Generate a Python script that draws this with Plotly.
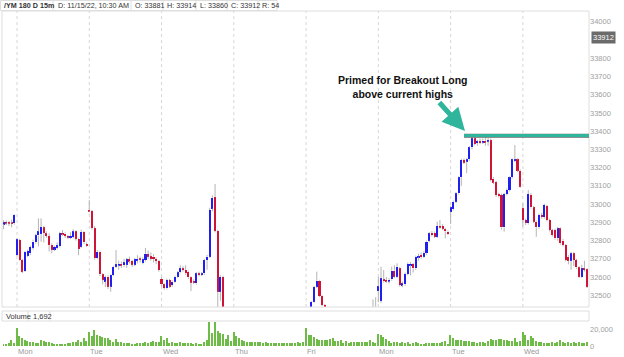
import plotly.graph_objects as go

# ---------------- data (15-minute bars) ----------------
day_labels = ["Mon", "Tue", "Wed", "Thu", "Fri", "Mon", "Tue", "Wed"]
bars_before_first_day = 5
bars_per_day = 27

open_ = [
    32890, 32902, 32900, 32898, 32895,
    32721, 32803, 32694, 32633, 32717, 32730, 32760, 32790, 32828, 32835, 32872, 32840, 32825, 32778, 32750, 32760, 32770, 32842, 32838, 32826, 32815, 32820, 32850, 32810, 32767, 32848, 32782,
    32970, 32962, 32868, 32703, 32740, 32615, 32575, 32602, 32548, 32611, 32657, 32665, 32672, 32664, 32668, 32698, 32688, 32668, 32690, 32700, 32678, 32693, 32726, 32714, 32712, 32700, 32688,
    32590, 32560, 32538, 32584, 32556, 32575, 32602, 32626, 32648, 32639, 32630, 32598, 32580, 32565, 32620, 32612, 32620, 32693, 32712, 32975, 33040, 32853, 32520, 32602, 32400, 32380, 32395,
    32360, 32350, 32320, 32285, 32305, 32270, 32252, 32278, 32262, 32235, 32248, 32268, 32245, 32222, 32248, 32276, 32262, 32242, 32268, 32296, 32282, 32262, 32288, 32308, 32292, 32272, 32298,
    32300, 32340, 32400, 32465, 32547, 32580, 32496, 32447, 32425, 32410, 32395, 32380, 32392, 32370, 32355, 32372, 32388, 32375, 32360, 32378, 32395, 32384, 32400, 32412, 32398, 32410, 32425,
    32525, 32470, 32587, 32585, 32578, 32587, 32635, 32602, 32648, 32556, 32560, 32617, 32665, 32672, 32648, 32708, 32721, 32712, 32730, 32799, 32843, 32843, 32821, 32880, 32880, 32862, 32849,
    32958, 32971, 33013, 33059, 33147, 33242, 33233, 33245, 33311, 33360, 33335, 33345, 33338, 33348, 33344, 33350, 33140, 33120, 33055, 33050, 32872, 33055, 33077, 33147, 33238, 33245, 33183,
    32977, 32913, 32895, 33050, 32982, 32904, 32872, 32940, 32928, 32990, 32913, 32858, 32858, 32812, 32867, 32800, 32776, 32712, 32690, 32730, 32694, 32653, 32602, 32648, 32642,
]
high = [
    32912, 32910, 32908, 32915, 32945,
    32812, 32810, 32700, 32745, 32750, 32772, 32805, 32838, 32922, 32922, 32880, 32850, 32840, 32785, 32772, 32790, 32848, 32858, 32845, 32832, 32845, 32862, 32856, 32815, 32860, 32852, 32790,
    33022, 32968, 32880, 32748, 32745, 32622, 32608, 32610, 32615, 32662, 32748, 32690, 32685, 32700, 32705, 32712, 32695, 32705, 32720, 32712, 32708, 32760, 32745, 32735, 32725, 32708, 32695,
    32600, 32566, 32592, 32590, 32582, 32608, 32632, 32665, 32660, 32665, 32636, 32604, 32588, 32628, 32630, 32628, 32700, 32722, 32980, 33048, 33110, 32860, 32610, 32608, 32420, 32410, 32405,
    32372, 32362, 32330, 32318, 32312, 32280, 32290, 32285, 32270, 32256, 32275, 32280, 32252, 32256, 32285, 32282, 32270, 32276, 32302, 32305, 32290, 32295, 32316, 32315, 32300, 32305, 32325,
    32350, 32410, 32470, 32552, 32630, 32585, 32500, 32452, 32428, 32418, 32400, 32400, 32396, 32376, 32380, 32395, 32392, 32380, 32384, 32400, 32400, 32405, 32420, 32416, 32415, 32478, 32490,
    32602, 32657, 32639, 32600, 32595, 32657, 32665, 32675, 32655, 32575, 32625, 32680, 32682, 32678, 32718, 32728, 32735, 32742, 32800, 32848, 32852, 32850, 32904, 32913, 32890, 32870, 32855,
    32990, 33020, 33065, 33152, 33248, 33250, 33252, 33318, 33368, 33368, 33352, 33360, 33360, 33365, 33362, 33360, 33148, 33128, 33062, 33058, 33062, 33085, 33152, 33250, 33324, 33252, 33190,
    33004, 32920, 33077, 33060, 32990, 32910, 32948, 32952, 33002, 32996, 32920, 32865, 32865, 32875, 32872, 32808, 32782, 32720, 32738, 32736, 32700, 32660, 32668, 32690, 32648,
]
low = [
    32862, 32885, 32880, 32872, 32888,
    32715, 32690, 32622, 32628, 32710, 32722, 32750, 32783, 32768, 32794, 32790, 32815, 32740, 32730, 32742, 32752, 32762, 32826, 32815, 32808, 32808, 32812, 32800, 32720, 32760, 32782, 32765,
    32955, 32860, 32695, 32698, 32605, 32560, 32545, 32535, 32520, 32605, 32650, 32640, 32650, 32655, 32650, 32675, 32655, 32660, 32675, 32680, 32670, 32685, 32700, 32690, 32680, 32672, 32630,
    32550, 32532, 32532, 32540, 32548, 32570, 32596, 32620, 32630, 32612, 32590, 32523, 32562, 32558, 32604, 32606, 32612, 32640, 32705, 32960, 32845, 32420, 32470, 32380, 32360, 32365, 32350,
    32340, 32310, 32275, 32278, 32260, 32240, 32245, 32252, 32225, 32228, 32240, 32238, 32215, 32215, 32240, 32255, 32235, 32236, 32260, 32275, 32255, 32258, 32280, 32285, 32265, 32265, 32290,
    32290, 32330, 32395, 32460, 32540, 32490, 32440, 32410, 32400, 32388, 32372, 32375, 32362, 32345, 32350, 32365, 32368, 32352, 32355, 32372, 32378, 32380, 32395, 32390, 32392, 32400, 32415,
    32462, 32460, 32570, 32568, 32565, 32580, 32595, 32595, 32548, 32545, 32552, 32610, 32610, 32625, 32640, 32690, 32700, 32705, 32722, 32790, 32822, 32814, 32815, 32865, 32858, 32812, 32830,
    32890, 32965, 33005, 33052, 33100, 33220, 33169, 33238, 33300, 33322, 33320, 33328, 33330, 33320, 33320, 33125, 33110, 33040, 33036, 32860, 32849, 33048, 33070, 33140, 33230, 33175, 33090,
    32876, 32886, 32888, 32975, 32896, 32821, 32865, 32920, 32920, 32905, 32850, 32822, 32805, 32800, 32778, 32768, 32686, 32670, 32640, 32660, 32645, 32595, 32595, 32630, 32540,
]
close = [
    32900, 32896, 32895, 32893, 32940,
    32807, 32694, 32630, 32739, 32743, 32765, 32795, 32830, 32850, 32874, 32840, 32825, 32775, 32750, 32765, 32775, 32840, 32835, 32825, 32818, 32825, 32850, 32810, 32755, 32848, 32790, 32772,
    32962, 32868, 32703, 32740, 32615, 32585, 32600, 32548, 32611, 32657, 32670, 32672, 32664, 32680, 32698, 32688, 32668, 32698, 32700, 32695, 32698, 32728, 32712, 32700, 32698, 32688, 32638,
    32560, 32540, 32584, 32548, 32575, 32602, 32626, 32648, 32639, 32621, 32598, 32570, 32570, 32620, 32612, 32620, 32693, 32712, 32968, 33035, 32853, 32520, 32602, 32400, 32380, 32395, 32370,
    32350, 32320, 32285, 32305, 32270, 32252, 32278, 32262, 32235, 32248, 32268, 32245, 32222, 32248, 32276, 32262, 32242, 32268, 32296, 32282, 32262, 32288, 32308, 32292, 32272, 32298, 32318,
    32340, 32400, 32465, 32547, 32580, 32496, 32447, 32425, 32410, 32395, 32380, 32392, 32370, 32355, 32372, 32388, 32375, 32360, 32378, 32395, 32384, 32400, 32412, 32398, 32410, 32425, 32430,
    32549, 32593, 32576, 32577, 32586, 32635, 32602, 32657, 32556, 32565, 32617, 32672, 32672, 32648, 32712, 32715, 32708, 32734, 32794, 32840, 32830, 32821, 32880, 32873, 32865, 32851, 32836,
    32982, 33013, 33059, 33147, 33242, 33227, 33245, 33311, 33360, 33329, 33345, 33335, 33348, 33338, 33350, 33132, 33118, 33050, 33044, 32872, 33055, 33077, 33147, 33245, 33245, 33183, 33096,
    32913, 32895, 33055, 32982, 32904, 32872, 32940, 32928, 32995, 32913, 32858, 32830, 32812, 32867, 32785, 32776, 32694, 32690, 32730, 32694, 32653, 32602, 32648, 32639, 32547,
]
volume = [
    2400, 2800, 3600, 7700, 4000,
    22200, 12100, 9700, 7700, 6100, 5300, 4800, 4000, 3600, 6900, 5700, 4800, 4400, 3200, 2800, 2400, 2800, 2400, 2800, 3200, 4000, 4800, 5300, 7700, 4400, 10100, 5700,
    17000, 11700, 19800, 13700, 12500, 10900, 10100, 9700, 7700, 4800, 8100, 5300, 4400, 3600, 3200, 3600, 2800, 2800, 3200, 3600, 4000, 5300, 3600, 4400, 6100, 4400, 4800,
    12100, 6900, 9700, 4000, 4800, 3600, 3200, 4400, 3600, 4000, 3200, 3600, 2800, 3200, 2800, 2400, 4400, 7700, 29000, 16000, 28500, 18000, 15500, 14500, 8000, 13000, 6000,
    17000, 12000, 10000, 7000, 5500, 5000, 5300, 4800, 4400, 4800, 4400, 4000, 4400, 4000, 3600, 4000, 3600, 4000, 3600, 3200, 3600, 3200, 3600, 4000, 5300, 3600, 4400,
    22200, 12900, 13700, 10900, 8900, 6900, 7700, 6900, 7700, 8900, 10100, 6100, 6100, 6900, 4000, 5700, 3600, 5000, 5300, 5000, 5300, 5000, 5300, 5300, 6900, 4800, 3200,
    15000, 12900, 10900, 8100, 6100, 3600, 4800, 5300, 3600, 4400, 3600, 4400, 2800, 3600, 4400, 3600, 2000, 2800, 3600, 3600, 3600, 3600, 4000, 3600, 4800, 6100, 2800,
    13700, 10100, 7700, 6900, 6900, 6100, 6100, 5700, 4800, 4400, 3600, 4400, 4800, 3600, 6100, 8900, 6900, 7700, 8100, 8500, 6900, 7700, 6100, 6100, 10100, 4800, 6100,
    17000, 13700, 7700, 11700, 10100, 6100, 4800, 4400, 4000, 3600, 3600, 4400, 3600, 4800, 6900, 4400, 3600, 4400, 3600, 5300, 3600, 4400, 4000, 3600, 4800,
]

price_ticks = list(range(32500, 34001, 100))
volume_ticks = [0, 20000]
volume_tick_text = ["0", "20,000"]
breakout_level = 33375
breakout_start_bar = 172
last_price = 33912
header_items = ["<b>/YM 180 D 15m</b>", "D: 11/15/22, 10:30 AM", "O: 33881", "H: 33914",
                "L: 33860", "C: 33912", "R: 54"]
volume_header = ["Volume", "1,692"]
callout = "<b>Primed for Breakout Long<br>above current highs</b>"

# ---------------- geometry helpers ----------------
W, H = 624, 357
ML, MR, MT, MB = 3, 35, 12, 11
PW, PH = W - ML - MR, H - MT - MB


def py(p):  # pixel row -> paper y
    return (H - MB - p) / PH


def px(p):  # pixel column -> paper x
    return (p - ML) / PW


UP, DOWN, WICK = "#1f1ff0", "#cf1537", "#b4b4b4"
VOL, GRID, BORDER, TEAL = "#6fbb47", "#d6d6d6", "#dedede", "#2fb59b"
FONT = "Liberation Sans"

n = len(close)
xs = list(range(n))
body_lo = [min(o, c) for o, c in zip(open_, close)]
body_hi = [max(o, c) for o, c in zip(open_, close)]
body_h = [max(h - l, 6) for h, l in zip(body_hi, body_lo)]
colors = [UP if c >= o else DOWN for o, c in zip(open_, close)]

wx, wy = [], []
for i in range(n):
    wx += [i, i, None, i, i, None]
    wy += [low[i], body_lo[i], None, body_hi[i], high[i], None]

fig = go.Figure()
fig.add_trace(go.Scatter(x=wx, y=wy, mode="lines", line=dict(color=WICK, width=1),
                         hoverinfo="skip", showlegend=False, yaxis="y"))
fig.add_trace(go.Bar(x=xs, y=body_h, base=body_lo, marker=dict(color=colors, line=dict(width=0)),
                     width=0.78, showlegend=False, yaxis="y"))
fig.add_trace(go.Bar(x=xs, y=volume, marker=dict(color=VOL, line=dict(width=0)),
                     width=0.55, showlegend=False, yaxis="y2"))

x_lo, x_hi = -0.23, n - 0.3
day_starts = [bars_before_first_day + k * bars_per_day for k in range(len(day_labels))]
# the 33900 label is hidden under the last-price tag in the reference
shown_price_ticks = [t for t in price_ticks if abs(t - last_price) > 50]

shapes = []
for ds in day_starts:
    shapes.append(dict(type="line", xref="x", yref="paper", x0=ds, x1=ds, y0=py(307), y1=py(11),
                       line=dict(color=GRID, width=1, dash="3px,3px"), layer="below"))
shapes.append(dict(type="rect", xref="paper", yref="paper", x0=px(2), x1=1, y0=py(307), y1=py(11),
                   line=dict(color=BORDER, width=1)))
shapes.append(dict(type="rect", xref="paper", yref="paper", x0=px(2), x1=1, y0=py(321), y1=py(311),
                   line=dict(color=BORDER, width=1)))
for xdiv in [28, 50]:
    shapes.append(dict(type="line", xref="paper", yref="paper", x0=px(xdiv), x1=px(xdiv),
                       y0=py(321), y1=py(311), line=dict(color=BORDER, width=1)))
shapes.append(dict(type="rect", xref="paper", yref="paper", x0=px(0.5), x1=px(277), y0=py(10.5), y1=py(0.5),
                   line=dict(color=BORDER, width=1), fillcolor="white"))
for xdiv in [53, 131, 163, 196, 227, 258]:
    shapes.append(dict(type="line", xref="paper", yref="paper", x0=px(xdiv), x1=px(xdiv),
                       y0=py(10.5), y1=py(0.5), line=dict(color=BORDER, width=1)))
shapes.append(dict(type="line", xref="x", yref="y", x0=breakout_start_bar, x1=x_hi,
                   y0=breakout_level, y1=breakout_level, line=dict(color="#6a6a6a", width=4)))
shapes.append(dict(type="line", xref="x", yref="y", x0=breakout_start_bar, x1=x_hi,
                   y0=breakout_level + 1.5, y1=breakout_level + 1.5, line=dict(color=TEAL, width=3)))

ann = []
header_x = [2, 56, 133, 165, 198, 229, 260]
for txt, hx in zip(header_items, header_x):
    ann.append(dict(text=txt, xref="paper", yref="paper", x=px(hx), y=py(5.5), xanchor="left",
                    yanchor="middle", showarrow=False, font=dict(family=FONT, size=7.2, color="#333")))
for txt, hx in zip(volume_header, [4, 31]):
    ann.append(dict(text=txt, xref="paper", yref="paper", x=px(hx), y=py(316), xanchor="left",
                    yanchor="middle", showarrow=False, font=dict(family=FONT, size=7.5, color="#333")))
for lab, ds in zip(day_labels, day_starts):
    ann.append(dict(text=lab, xref="x", yref="paper", x=ds, y=py(351.5), xanchor="left",
                    yanchor="middle", showarrow=False, xshift=-1,
                    font=dict(family=FONT, size=7.5, color="#9a9a9a")))
ann.append(dict(text=str(last_price), xref="paper", yref="y", x=px(591), y=last_price,
                xanchor="left", yanchor="middle", showarrow=False, bgcolor="#6b6b6b", borderpad=1,
                font=dict(family=FONT, size=7.5, color="white")))
ann.append(dict(text=callout, xref="paper", yref="paper", x=px(403), y=py(87), xanchor="center",
                yanchor="middle", showarrow=False, align="center",
                font=dict(family=FONT, size=10.5, color="#111")))
ann.append(dict(text="", xref="paper", yref="paper", x=px(465), y=py(131), ax=-27, ay=-30,
                showarrow=True, arrowhead=2, arrowsize=0.9, arrowwidth=5, arrowcolor=TEAL))

fig.update_layout(
    width=W, height=H, margin=dict(l=ML, r=MR, t=MT, b=MB, autoexpand=False),
    paper_bgcolor="white", plot_bgcolor="white", barmode="overlay", bargap=0,
    showlegend=False, shapes=shapes, annotations=ann,
    font=dict(family=FONT, size=7.5, color="#999"),
    xaxis=dict(range=[x_lo, x_hi], showticklabels=False, showgrid=False, zeroline=False,
               showline=False, anchor="y2", fixedrange=True),
    yaxis=dict(domain=[py(307), 1], range=[32436, 34053], side="right", tickvals=shown_price_ticks,
               tickformat="d", showgrid=False, zeroline=False, showline=False, ticks="",
               automargin=False, tickfont=dict(family=FONT, size=7.5, color="#a0a0a0")),
    yaxis2=dict(domain=[0, py(311)], range=[0, 42400], side="right", tickvals=volume_ticks,
                ticktext=volume_tick_text, showgrid=False, zeroline=False, showline=False, ticks="",
                automargin=False, tickfont=dict(family=FONT, size=7.5, color="#a0a0a0")),
)

fig.write_html("out.html", config={"displayModeBar": False},
               post_script="document.body.style.margin='0';document.body.style.overflow='hidden';")
